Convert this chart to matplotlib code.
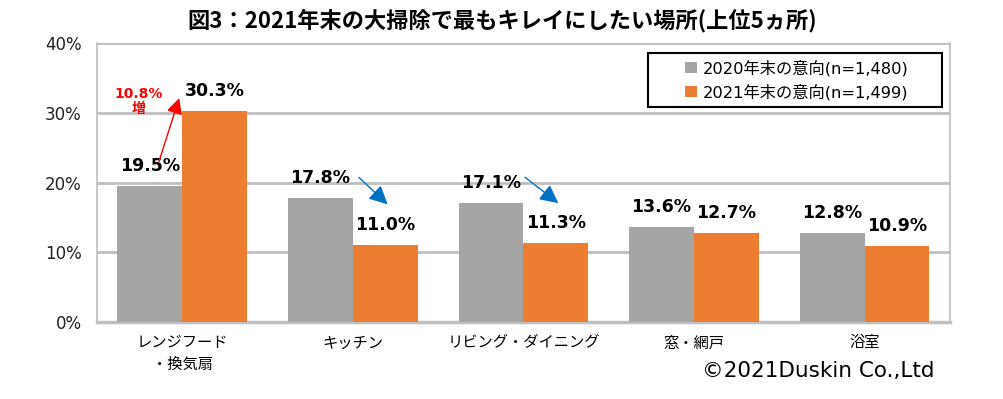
import matplotlib
matplotlib.use("Agg")
import matplotlib.pyplot as plt
from matplotlib.patches import Rectangle
import numpy as np

plt.rcParams["font.family"] = ["DejaVu Sans", "Noto Sans CJK JP"]

categories = ["レンジフード\n・換気扇", "キッチン", "リビング・ダイニング", "窓・網戸", "浴室"]
vals_2020 = [19.5, 17.8, 17.1, 13.6, 12.8]
vals_2021 = [30.3, 11.0, 11.3, 12.7, 10.9]
series_labels = ["2020年末の意向(n=1,480)", "2021年末の意向(n=1,499)"]
yticks = [0, 10, 20, 30, 40]

GRAY = "#A5A5A5"
ORANGE = "#ED7D31"
GRID = "#BFBFBF"

fig = plt.figure(figsize=(10.04, 3.99), dpi=100)
ax = fig.add_axes([0.0966, 0.193, 0.8494, 0.699])

x = np.arange(len(categories))
w = 0.38
b1 = ax.bar(x - w / 2, vals_2020, w, color=GRAY, label=series_labels[0], zorder=3)
b2 = ax.bar(x + w / 2, vals_2021, w, color=ORANGE, label=series_labels[1], zorder=3)

for bars, vals in ((b1, vals_2020), (b2, vals_2021)):
    for rect, v in zip(bars, vals):
        ax.annotate(f"{v:.1f}%", (rect.get_x() + rect.get_width() / 2, v),
                    xytext=(0, 8), textcoords="offset points",
                    ha="center", va="bottom", fontsize=12.5, fontweight="bold",
                    color="black", zorder=5)

ax.set_xlim(-0.5, len(categories) - 0.5)
ax.set_ylim(0, 40)
ax.set_yticks(yticks)
ax.set_yticklabels([f"{t}%" for t in yticks], fontsize=12, color="#222222")
ax.set_xticks(x)
ax.set_xticklabels(categories, fontsize=11, family=["Noto Sans CJK JP"], linespacing=1.35)
ax.tick_params(axis="y", length=0, pad=11)
ax.tick_params(axis="x", length=0, pad=9)

ax.yaxis.grid(True, color=GRID, linewidth=2, zorder=0)
for side in ("left", "right"):
    ax.spines[side].set_color(GRID)
    ax.spines[side].set_linewidth(1.2)
ax.spines["top"].set_visible(False)
ax.spines["bottom"].set_color(GRID)
ax.spines["bottom"].set_linewidth(2.5)

# change arrows
ax.annotate("", xy=(-0.013, 32.5), xytext=(-0.142, 22.6),
            arrowprops=dict(arrowstyle="-|>,head_length=0.8,head_width=0.4",
                            color="red", lw=1, mutation_scale=12),
            zorder=6)
ax.text(-0.254, 31.6, "10.8%\n増", color="red", fontsize=10, fontweight="bold",
        ha="center", va="center", linespacing=1.1,
        family=["DejaVu Sans", "Noto Sans CJK JP"])
for (x0, y0), (x1, y1) in (((1.024, 21.0), (1.216, 16.6)), ((1.997, 21.0), (2.218, 16.8))):
    ax.annotate("", xy=(x1, y1), xytext=(x0, y0),
                arrowprops=dict(arrowstyle="-|>,head_length=0.8,head_width=0.4",
                                color="#0070C0", lw=1, mutation_scale=14),
                zorder=6)

# legend: entries on the right, framed box drawn separately
ax.add_patch(Rectangle((0.646, 0.771), 0.345, 0.1935, transform=ax.transAxes,
                       facecolor="white", edgecolor="black", linewidth=1.5,
                       zorder=7, clip_on=False))
leg = ax.legend(loc="upper left", bbox_to_anchor=(0.69, 0.94), fontsize=11.7,
                frameon=False, handlelength=0.7, handleheight=0.7,
                handletextpad=0.35, borderpad=0, labelspacing=0.45, borderaxespad=0)
leg.set_zorder(8)

fig.text(0.5, 0.948, "図3：2021年末の大掃除で最もキレイにしたい場所(上位5ヵ所)",
         ha="center", va="center", fontsize=16, fontweight="bold",
         family=["Noto Sans CJK JP"])
fig.text(0.931, 0.07, "©2021Duskin Co.,Ltd", ha="right", va="center", fontsize=15.5)

fig.savefig("out.png", dpi=100)
